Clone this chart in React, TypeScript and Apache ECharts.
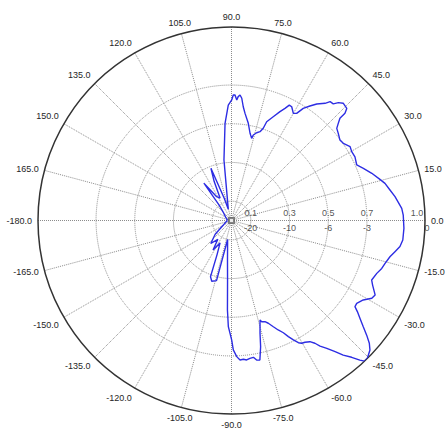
import React, { useEffect, useRef } from 'react';
import * as echarts from 'echarts';

// Measured pattern: angle (degrees, -180..180) and normalised amplitude
const angleDeg = [
  -180, -165, -150, -140, -132, -126, -122, -117, -113, -110.5, -108, -104, -101.6,
  -95.8, -93.8, -92.9, -92.6, -91.7, -89.9, -89.2, -87.8, -86.5, -85.1, -83.8, -82.4,
  -80.9, -79.8, -78.5, -77.0, -75.8, -74.0, -73.4, -71.7, -70.3, -68.5, -66.9, -65.2,
  -63.9, -62.6, -61.3, -60.2, -58.9, -57.1, -55.8, -54.8, -53.3, -51.7, -50.3, -48.7,
  -47.4, -46.6, -45.4, -43.1, -41.7, -40.3, -38.9, -37.3, -35.9, -34.9, -33.5, -31.1,
  -29.0, -27.4, -24.6, -23.0, -20.0, -17.7, -15.6, -12.9, -10.8, -8.8, -6.5, -2.6,
  1.8, 4.1, 8.3, 10.9, 13.6, 15.5, 18.6, 21.6, 23.9, 27.3, 29.8, 31.9, 34.6, 36.6,
  39.2, 41.2, 42.3, 43.3, 43.4, 44.2, 46.4, 47.8, 48.9, 50.3, 51.4, 53.8, 55.6, 57.4,
  58.7, 60.0, 62.1, 63.4, 64.5, 66.0, 68.1, 70.4, 71.0, 72.2, 74.0, 75.7, 76.2, 78.0,
  80.2, 82.8, 84.1, 85.2, 86.1, 86.9, 87.5, 88.4, 89.2, 89.9, 91.6, 93.8, 97.1, 106,
  108, 111.5, 114, 117, 121.9, 126.5, 129, 135, 150, 165, 180,
];
const amplitude = [
  0.02, 0.03, 0.05, 0.11, 0.16, 0.12, 0.18, 0.13, 0.19, 0.31, 0.33, 0.32, 0.10,
  0.205, 0.308, 0.411, 0.463, 0.549, 0.618, 0.669, 0.704, 0.722, 0.72, 0.725, 0.719,
  0.716, 0.733, 0.736, 0.669, 0.601, 0.535, 0.546, 0.551, 0.564, 0.59, 0.615, 0.639,
  0.668, 0.695, 0.72, 0.731, 0.735, 0.746, 0.767, 0.794, 0.824, 0.864, 0.904, 0.941,
  0.98, 1.0, 1.0, 0.98, 0.954, 0.916, 0.875, 0.835, 0.803, 0.778, 0.776, 0.795,
  0.829, 0.836, 0.802, 0.787, 0.799, 0.815, 0.824, 0.84, 0.86, 0.881, 0.891, 0.892,
  0.888, 0.882, 0.854, 0.834, 0.816, 0.796, 0.765, 0.733, 0.708, 0.718, 0.716, 0.722, 0.702, 0.698,
  0.712, 0.723, 0.746, 0.77, 0.807, 0.831, 0.837, 0.822, 0.8, 0.798, 0.775, 0.746, 0.717, 0.688,
  0.648, 0.639, 0.665, 0.667, 0.642, 0.616, 0.578, 0.542, 0.504, 0.482, 0.472, 0.456, 0.437, 0.461,
  0.51, 0.558, 0.591, 0.634, 0.65, 0.641, 0.623, 0.649, 0.649, 0.623, 0.597, 0.503, 0.315, 0.06,
  0.12, 0.29, 0.22, 0.13, 0.145, 0.24, 0.10, 0.06, 0.035, 0.025, 0.02,
];

// Radial rings and their labels (linear value above, dB below)
const ringValues = [0.1, 0.3, 0.5, 0.7, 1.0];
const ringLabels = ['0.1', '0.3', '0.5', '0.7', '1.0'];
const dbLabels = ['-20', '-10', '-6', '-3', '0'];
const radiusStep = 0.1;
const angleStep = 15;
const angleMin = -180;
const angleMax = 180;

const FONT = "'Liberation Sans', Arial, sans-serif";
const GRID = '#8c8c8c';
const TEXT = '#262626';

export default function App() {
  const ref = useRef<HTMLDivElement>(null);
  useEffect(() => {
    const chart = echarts.init(ref.current as HTMLDivElement, null, { renderer: 'svg' });
    const tickCount = Math.round(1 / radiusStep) + 1;
    const ringColors = Array.from({ length: tickCount }, (_, i) => {
      const v = i * radiusStep;
      const isRing = ringValues.some((r) => Math.abs(r - v) < 1e-6) && v < 0.999;
      return isRing ? GRID : 'rgba(0,0,0,0)';
    });
    const lineData = angleDeg.map((a, i) => [amplitude[i], a]);

    const option: any = {
      animation: false,
      backgroundColor: '#ffffff',
      polar: { center: [231.5, 220.5], radius: 193.5 },
      angleAxis: {
        type: 'value',
        min: angleMin,
        max: angleMax,
        interval: angleStep,
        startAngle: 180,
        clockwise: false,
        axisLine: { show: true, lineStyle: { color: '#333333', width: 1.5 } },
        axisTick: { show: false },
        axisLabel: {
          margin: 6,
          fontSize: 9,
          color: TEXT,
          fontFamily: FONT,
          formatter: (v: number) => v.toFixed(1),
        },
        splitLine: { show: true, lineStyle: { color: GRID, type: 'dotted', width: 1 } },
      },
      radiusAxis: {
        type: 'value',
        min: 0,
        max: 1,
        interval: radiusStep,
        axisLine: { show: false },
        axisTick: { show: false },
        axisLabel: { show: false },
        splitLine: { show: true, lineStyle: { color: ringColors, type: 'dotted', width: 1 } },
      },
      series: [
        {
          type: 'line',
          coordinateSystem: 'polar',
          data: lineData,
          showSymbol: false,
          symbol: 'none',
          clip: false,
          lineStyle: { color: '#2d2de3', width: 1.4 },
          z: 5,
        },
        {
          type: 'scatter',
          coordinateSystem: 'polar',
          symbolSize: 0,
          clip: false,
          data: ringValues.map((r, i) => ({
            value: [r, 0],
            label: i === ringValues.length - 1 ? { offset: [-8, 0] } : undefined,
          })),
          label: {
            show: true,
            position: 'top',
            distance: 3,
            fontSize: 9,
            color: TEXT,
            fontFamily: FONT,
            formatter: (p: any) => ringLabels[p.dataIndex],
          },
          z: 6,
        },
        {
          type: 'scatter',
          coordinateSystem: 'polar',
          symbolSize: 0,
          clip: false,
          data: ringValues.map((r, i) => ({
            value: [r, 0],
            label: i === ringValues.length - 1 ? { offset: [2, 0] } : undefined,
          })),
          label: {
            show: true,
            position: 'bottom',
            distance: 3,
            fontSize: 9,
            color: TEXT,
            fontFamily: FONT,
            formatter: (p: any) => dbLabels[p.dataIndex],
          },
          z: 6,
        },
        {
          type: 'scatter',
          coordinateSystem: 'polar',
          symbol: 'emptyRect',
          symbolSize: 5,
          itemStyle: { color: '#666666', borderColor: '#666666', borderWidth: 1 },
          data: [[0, 0]],
          z: 4,
        },
      ],
    };
    chart.setOption(option);
    return () => chart.dispose();
  }, []);
  return (
    <div
      ref={ref}
      style={{ position: 'fixed', left: 0, top: 0, width: 448, height: 428, background: '#fff' }}
    />
  );
}
